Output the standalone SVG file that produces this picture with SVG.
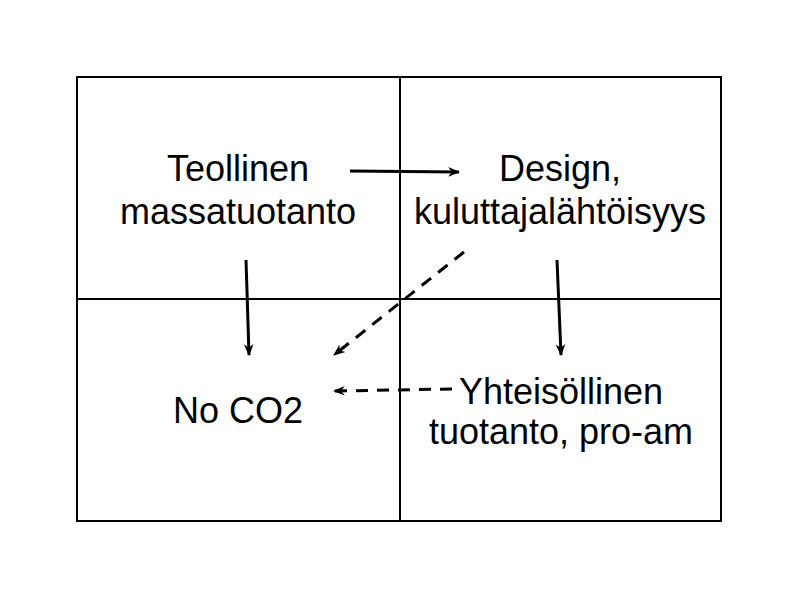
<svg xmlns="http://www.w3.org/2000/svg" width="800" height="600" viewBox="0 0 800 600">
<style>
.grid{fill:none;stroke:#000;stroke-width:2}
.t{font-family:"Liberation Sans",Arial,sans-serif;font-size:36px;fill:#000;text-anchor:middle}
.a{fill:none;stroke:#000;stroke-width:3;marker-end:url(#ah)}
.d{stroke-dasharray:12,9}
</style>
<defs>
<marker id="ah" viewBox="0 0 10 10" refX="9" refY="5" markerWidth="4" markerHeight="4" orient="auto" markerUnits="strokeWidth">
<path d="M0,1 L10,5 L0,9 L3,5 z" fill="#000"/>
</marker>
</defs>
<rect width="800" height="600" fill="#fff"/>
<g id="grid">
<rect class="grid" x="77" y="77" width="644" height="444"/>
<line class="grid" x1="400" y1="77" x2="400" y2="521"/>
<line class="grid" x1="77" y1="299" x2="721" y2="299"/>
</g>
<g id="n1"><text class="t" x="238" y="181">Teollinen</text><text class="t" x="238" y="224">massatuotanto</text></g>
<g id="n2"><text class="t" x="560" y="181">Design,</text><text class="t" x="560" y="224">kuluttajalähtöisyys</text></g>
<g id="n3"><text class="t" x="238" y="423">No CO2</text></g>
<g id="n4"><text class="t" x="561" y="404">Yhteisöllinen</text><text class="t" x="561" y="444">tuotanto, pro-am</text></g>
<g id="connectors">
<line class="a" x1="350" y1="171" x2="459" y2="172"/>
<line class="a" x1="246" y1="260" x2="249" y2="355"/>
<line class="a" x1="557" y1="260" x2="561" y2="355"/>
<line class="a d" x1="464" y1="252" x2="334" y2="355"/>
<line class="a d" x1="452" y1="389" x2="334" y2="391"/>
</g>
</svg>
